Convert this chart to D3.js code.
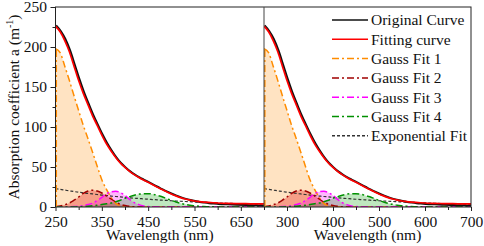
<!DOCTYPE html>
<html><head><meta charset="utf-8">
<script src="https://cdn.jsdelivr.net/npm/d3@7"></script>
<style>body{margin:0;background:#fff}</style>
</head><body><svg id="c" width="484" height="246"></svg>
<script>
const wavelengths=[250,260,270,280,290,300,310,320,330,340,350,360,370,380,390,400,410,420,430,440,450,460,470,480,490,500,510,520,530,540,550,560,570,580,590,600,620,640,660,680,700];
const originalCurve=[227,220,210,196,178.5,160.5,144,129.5,115.5,103,91,80,70.5,62,55,49.5,44.5,40.5,37,34,31,28,25,22,19.2,16.6,14.2,12,10.2,8.7,7.4,6.3,5.5,4.8,4.3,3.9,3.3,2.8,2.4,2.1,1.8];
const fittingCurve=[226,219,208,194,176,158,142,128,114,102,90,79,70,62,55,49.5,44.5,40.5,37,33.8,30.8,27.8,24.8,21.8,19,16.3,13.9,11.7,10,8.6,7.5,6.8,6.2,5.7,5.3,5,4.6,4.3,4.1,3.9,3.8];
const gauss1=[198,193,176,158,139,120.5,102,85.5,68.5,51,34,22,12,4.5,1.8,0.7,0.2,0,0,0,0,0,0,0,0,0,0,0,0,0,0,0,0,0,0,0,0,0,0,0,0];
const gauss2=[0.3,1.2,2.8,5,8.5,12.5,17,20,21,20,17.5,14,10,6.3,3.5,1.8,0.8,0.3,0.1,0,0,0,0,0,0,0,0,0,0,0,0,0,0,0,0,0,0,0,0,0,0];
const gauss3=[0,0,0,0.2,0.5,1,1.8,3,4.8,8,12,16.7,19,19.6,18,14.5,9.5,5.5,3,1.3,0.5,0.2,0,0,0,0,0,0,0,0,0,0,0,0,0,0,0,0,0,0,0];
const gauss4=[0,0,0,0,0.1,0.3,0.6,1,1.5,2.2,3,4,5,6.5,8.5,11,13,14.8,16,16.7,16.7,16,14.5,12.8,10.5,8.3,6.3,4.6,3.3,2.3,1.6,1,0.6,0.4,0.2,0.1,0,0,0,0,0];
const expFit=[23,22,21.1,20.2,19.3,18.5,17.7,17,16.3,15.6,14.9,14.3,13.7,13.1,12.6,12,11.5,11,10.6,10.1,9.7,9.3,8.9,8.5,8.2,7.8,7.5,7.2,6.9,6.6,6.3,6.05,5.8,5.55,5.3,5.1,4.7,4.3,4,3.7,3.4];
const xTicks=[250,300,350,400,450,500,550,600,650,700];
const leftTickLabels=[250,350,450,550,650];
const rightTickLabels=[300,400,500,600,700];
const yTicks=[0,25,50,75,100,125,150,175,200,225,250];
const yTickLabels=[0,50,100,150,200,250];
const legendLabels=["Original Curve","Fitting curve","Gauss Fit 1","Gauss Fit 2","Gauss Fit 3","Gauss Fit 4","Exponential Fit"];

const FONT="'Liberation Serif'";
const FS=15.5;
const svg=d3.select("#c");
const plotTop=7,plotBottom=207;
const y=d3.scaleLinear().domain([0,250]).range([plotBottom,plotTop]);
const panels=[{x0:55.5,x1:264,labels:leftTickLabels,showY:true},{x0:264,x1:471,labels:rightTickLabels,showY:false}];

const seriesStyles=[
 {color:"#111",w:2,dash:null},
 {color:"#ff0000",w:1.7,dash:null},
 {color:"#ff8c00",w:1.5,dash:"7,3,2,3"},
 {color:"#a00000",w:1.5,dash:"7,3,2,3"},
 {color:"#ff00ff",w:1.5,dash:"7,3,2,3"},
 {color:"#009000",w:1.5,dash:"7,3,2,3"},
 {color:"#333",w:1.2,dash:"3,2"}
];
const gaussData=[gauss1,gauss2,gauss3,gauss4];
const fills=[{c:"#ff8c00",o:0.24},{c:"#e00000",o:0.3},{c:"#ff00ff",o:0.28},{c:"#00a000",o:0.25}];

panels.forEach((p,pi)=>{
  const x=d3.scaleLinear().domain([250,700]).range([p.x0,p.x1]);
  const g=svg.append("g");
  const cid="clip"+pi;
  svg.append("clipPath").attr("id",cid).append("rect").attr("x",p.x0).attr("y",plotTop).attr("width",p.x1-p.x0).attr("height",plotBottom-plotTop);
  const plot=g.append("g").attr("clip-path",`url(#${cid})`);
  const area=d3.area().x((d,i)=>x(wavelengths[i])).y0(y(0)).y1(d=>y(d)).curve(d3.curveMonotoneX);
  const line=d3.line().x((d,i)=>x(wavelengths[i])).y(d=>y(d)).curve(d3.curveMonotoneX);
  gaussData.forEach((arr,k)=>{
    plot.append("path").attr("d",area(arr)).attr("fill",fills[k].c).attr("fill-opacity",fills[k].o);
  });
  plot.append("path").attr("d",line(expFit)).attr("fill","none").attr("stroke",seriesStyles[6].color).attr("stroke-width",seriesStyles[6].w).attr("stroke-dasharray",seriesStyles[6].dash);
  gaussData.forEach((arr,k)=>{
    const st=seriesStyles[k+2];
    plot.append("path").attr("d",line(arr)).attr("fill","none").attr("stroke",st.color).attr("stroke-width",st.w).attr("stroke-dasharray",st.dash);
  });
  plot.append("line").attr("x1",x(250)+0.8).attr("x2",x(250)+0.8).attr("y1",y(0)).attr("y2",y(gauss1[0]))
    .attr("stroke",seriesStyles[2].color).attr("stroke-width",1.5).attr("stroke-dasharray",seriesStyles[2].dash);
  plot.append("path").attr("d",line(originalCurve)).attr("fill","none").attr("stroke",seriesStyles[0].color).attr("stroke-width",seriesStyles[0].w).attr("transform","translate(0.6,0)");
  plot.append("path").attr("d",line(fittingCurve)).attr("fill","none").attr("stroke",seriesStyles[1].color).attr("stroke-width",seriesStyles[1].w);

  const xa=g.append("g").attr("transform",`translate(0,${plotBottom})`)
    .call(d3.axisBottom(x).tickValues(xTicks).tickSize(4).tickPadding(4.5).tickFormat(d=>p.labels.includes(d)?d:""));
  xa.select(".domain").remove();
  xa.selectAll(".tick line").attr("stroke","#222").attr("y2",d=>p.labels.includes(d)?4:3);
  xa.selectAll(".tick text").attr("font-size",FS).style("font-family",FONT).attr("fill","#111");
  g.append("text").attr("x",(p.x0+p.x1)/2).attr("y",240).attr("text-anchor","middle").attr("font-size",FS).style("font-family",FONT).attr("fill","#111").text("Wavelength (nm)");
  if(p.showY){
    const ya=g.append("g").attr("transform",`translate(${p.x0},0)`)
      .call(d3.axisLeft(y).tickValues(yTicks).tickSize(5).tickPadding(3.5).tickFormat(d=>yTickLabels.includes(d)?d:""));
    ya.select(".domain").remove();
    ya.selectAll(".tick line").attr("stroke","#222").attr("x2",d=>yTickLabels.includes(d)?-5:-3);
    ya.selectAll(".tick text").attr("font-size",FS).style("font-family",FONT).attr("fill","#111");
  }
});

svg.append("rect").attr("x",55.5).attr("y",plotTop).attr("width",471-55.5).attr("height",plotBottom-plotTop).attr("fill","none").attr("stroke","#222").attr("stroke-width",1);
svg.append("line").attr("x1",264).attr("x2",264).attr("y1",plotTop).attr("y2",plotBottom).attr("stroke","#444").attr("stroke-width",1);

const yt=svg.append("text").attr("transform","translate(19,107) rotate(-90)").attr("text-anchor","middle").attr("font-size",FS).style("font-family",FONT).attr("fill","#111");
yt.append("tspan").text("Absorption coefficient a (m");
yt.append("tspan").attr("font-size",10).attr("dy",-6).text("-1");
yt.append("tspan").attr("dy",6).text(")");

const lg=svg.append("g");
legendLabels.forEach((lab,i)=>{
  const st=seriesStyles[i];
  const ly=20+i*19.3;
  lg.append("line").attr("x1",332).attr("x2",368).attr("y1",ly).attr("y2",ly).attr("stroke",st.color)
    .attr("stroke-width",i<2?1.6:1.5).attr("stroke-dasharray",st.dash);
  lg.append("text").attr("x",371).attr("y",ly).attr("dy","0.35em").attr("font-size",FS).style("font-family",FONT).attr("fill","#111").text(lab);
});
</script></body></html>
